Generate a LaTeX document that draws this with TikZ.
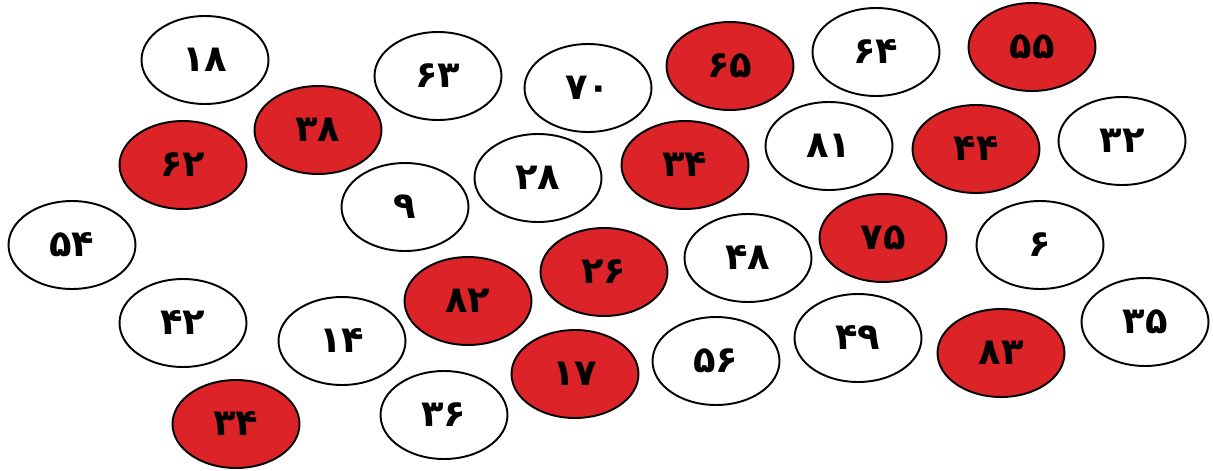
\documentclass[tikz,border=0pt]{standalone}
\usepackage{fontspec}
\usepackage{xcolor}
\usepackage{tikz}
\usetikzlibrary{shapes.geometric}

\newfontfamily\faNum[Script=Arabic]{DejaVu Sans}
\definecolor{cellRed}{RGB}{220,36,40}

\tikzset{
  cell/.style={ellipse, draw=black, line width=1.1pt, fill=white,
    minimum width=2.54cm, minimum height=1.76cm, inner sep=0pt,
    font=\faNum\bfseries\fontsize{21}{24}\selectfont},
  redcell/.style={cell, fill=cellRed}
}

\begin{document}
\begin{tikzpicture}[x=0.02cm, y=-0.02cm]
  \useasboundingbox (0,0) rectangle (1213,470);

  % top row
  \node[cell]    (n18)  at (205,60)   {۱۸};
  \node[cell]    (n63)  at (438,76)   {۶۳};
  \node[cell]    (n70)  at (588,88)   {۷۰};
  \node[redcell] (n65)  at (730,66)   {۶۵};
  \node[cell]    (n64)  at (876,52)   {۶۴};
  \node[redcell] (n55)  at (1032,47)  {۵۵};

  % second row
  \node[redcell] (n38)  at (318,130)  {۳۸};
  \node[redcell] (n62)  at (183,165)  {۶۲};
  \node[cell]    (n9)   at (405,207)  {۹};
  \node[cell]    (n28)  at (538,178)  {۲۸};
  \node[redcell] (n34a) at (685,165)  {۳۴};
  \node[cell]    (n81)  at (829,146)  {۸۱};
  \node[redcell] (n44)  at (976,149)  {۴۴};
  \node[cell]    (n32)  at (1122,141) {۳۲};

  % middle row
  \node[cell]    (n54)  at (72,245)   {۵۴};
  \node[redcell] (n26)  at (604,272)  {۲۶};
  \node[cell]    (n48)  at (748,258)  {۴۸};
  \node[redcell] (n75)  at (883,238)  {۷۵};
  \node[cell]    (n6)   at (1040,245) {۶};
  \node[redcell] (n82)  at (468,301)  {۸۲};

  % lower rows
  \node[cell]    (n42)  at (183,323)  {۴۲};
  \node[cell]    (n14)  at (342,341)  {۱۴};
  \node[cell]    (n49)  at (858,338)  {۴۹};
  \node[cell]    (n35)  at (1145,322) {۳۵};
  \node[redcell] (n83)  at (1001,353) {۸۳};
  \node[redcell] (n17)  at (575,374)  {۱۷};
  \node[cell]    (n56)  at (716,361)  {۵۶};
  \node[cell]    (n36)  at (444,415)  {۳۶};
  \node[redcell] (n34b) at (236,424)  {۳۴};
\end{tikzpicture}
\end{document}
